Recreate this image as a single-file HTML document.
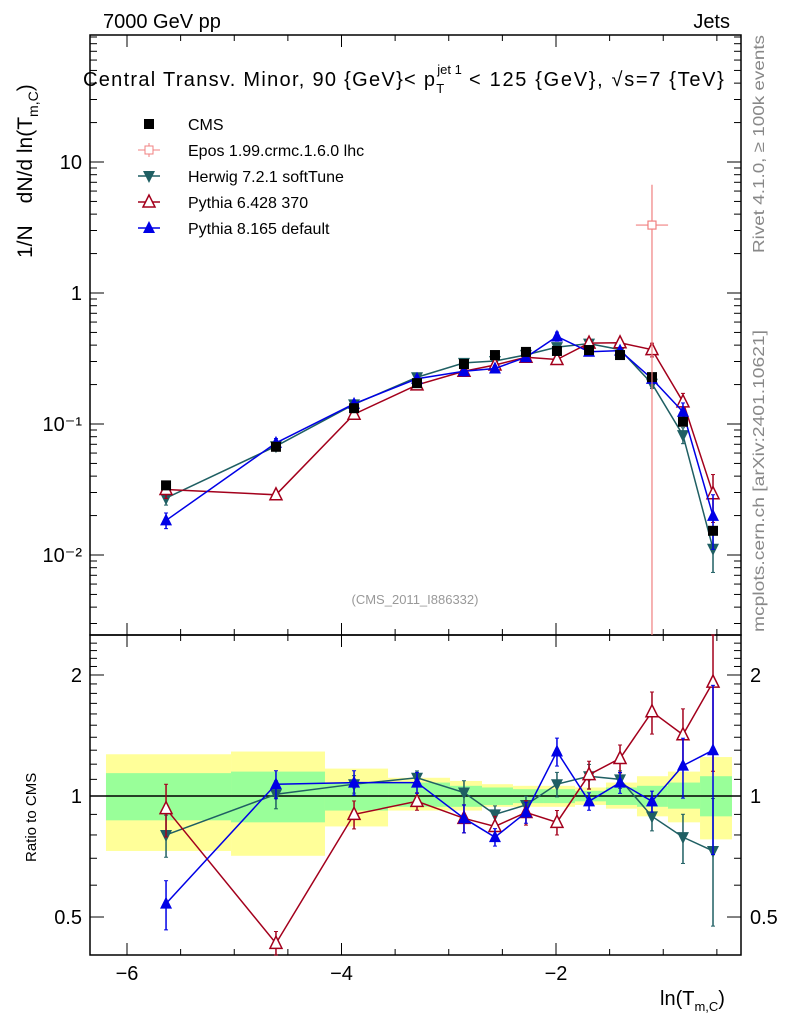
<!DOCTYPE html>
<html><head><meta charset="utf-8"><style>
body{margin:0;background:#fff;}
svg{display:block;font-family:"Liberation Sans",sans-serif;}
</style></head><body>
<svg id="c" width="786" height="1024"></svg>
<script>
const xVals=[-5.636,-4.611,-3.883,-3.296,-2.858,-2.569,-2.280,-1.991,-1.692,-1.403,-1.105,-0.816,-0.536];
const binEdges=[-6.196,-5.030,-4.154,-3.566,-2.988,-2.690,-2.401,-2.112,-1.823,-1.534,-1.245,-0.956,-0.657,-0.359];
const cmsVals=[0.034,0.067,0.132,0.205,0.287,0.336,0.355,0.361,0.367,0.336,0.228,0.104,0.0153];
const herwigRatio=[0.80,1.01,1.07,1.11,1.02,0.90,0.95,1.07,1.12,1.10,0.89,0.79,0.73];
const herwigErr=[0.12,0.08,0.05,0.04,0.07,0.05,0.05,0.07,0.07,0.05,0.08,0.14,0.35];
const py6Ratio=[0.93,0.43,0.90,0.97,0.88,0.84,0.91,0.86,1.13,1.24,1.62,1.42,1.92];
const py6Err=[0.15,0.07,0.08,0.05,0.08,0.06,0.07,0.07,0.08,0.08,0.12,0.16,0.40];
const py8Ratio=[0.54,1.07,1.08,1.08,0.88,0.79,0.91,1.29,0.97,1.08,0.97,1.19,1.30];
const py8Err=[0.14,0.08,0.07,0.06,0.08,0.05,0.06,0.08,0.05,0.06,0.06,0.17,0.45];
const yellowUp=[1.27,1.29,1.17,1.11,1.09,1.07,1.06,1.06,1.05,1.08,1.12,1.15,1.25];
const yellowDn=[0.73,0.71,0.84,0.92,0.92,0.94,0.94,0.94,0.95,0.93,0.89,0.86,0.78];
const greenUp=[1.14,1.15,1.08,1.08,1.06,1.05,1.04,1.04,1.03,1.05,1.06,1.08,1.12];
const greenDn=[0.87,0.86,0.92,0.94,0.94,0.95,0.96,0.96,0.97,0.95,0.94,0.93,0.89];
const eposX=[-1.105], eposVal=[3.3], eposErrUp=[3.4], eposXErr=[0.15];
const xTicks=[-6,-4,-2];
const mainTicks=[0.01,0.1,1,10];
const mainTickLabels=["10\u207B\u00B2","10\u207B\u00B9","1","10"];
const ratioTicks=[0.5,1,2];
const ratioTickLabels=["0.5","1","2"];

const NS="http://www.w3.org/2000/svg";
const svg=document.getElementById('c');
const L=90,R=741,MT=35,MB=635,RT=635,RB=955;
const X0=-6.345,X1=-0.275;
const sx=v=>L+(v-X0)/(X1-X0)*(R-L);
const sy=v=>293-131*Math.log10(v);
const sr=v=>796-402*Math.log10(v);
function el(tag,attrs,parent){const e=document.createElementNS(NS,tag);for(const k in attrs)e.setAttribute(k,attrs[k]);(parent||svg).appendChild(e);return e;}
function txt(s,attrs,parent){const t=el('text',attrs,parent);t.textContent=s;return t;}

const bands=el('g',{});


for(let i=0;i<xVals.length;i++){
  const a=sx(binEdges[i]),b=sx(binEdges[i+1]);
  const y=el('rect',{x:a,y:sr(yellowUp[i]),width:b-a,height:sr(yellowDn[i])-sr(yellowUp[i]),fill:'#ffff99'},bands);
  
  
  const g=el('rect',{x:a,y:sr(greenUp[i]),width:b-a,height:sr(greenDn[i])-sr(greenUp[i]),fill:'#99ff99'},bands);
  
  
}
el('line',{x1:L,x2:R,y1:sr(1),y2:sr(1),stroke:'#000','stroke-width':1.5});

const f1=el('rect',{x:L,y:MT,width:R-L,height:MB-MT,fill:'none',stroke:'#000','stroke-width':1.5});

const f2=el('rect',{x:L,y:RT,width:R-L,height:RB-RT,fill:'none',stroke:'#000','stroke-width':1.5});


for(let v=-6;v<=-0.5;v+=0.5){
  const major=xTicks.includes(v);const len=major?12:6;const x=sx(v);
  for(const [top,bot] of [[MT,MB],[RT,RB]]){
    el('line',{x1:x,x2:x,y1:bot,y2:bot-len,stroke:'#000'});
    el('line',{x1:x,x2:x,y1:top,y2:top+len,stroke:'#000'});
  }
}
xTicks.forEach(v=>{const t=txt('\u2212'+Math.abs(v),{x:sx(v),y:980,'font-size':20,'text-anchor':'middle'});});
for(let e=-3;e<=1;e++)for(let m=1;m<10;m++){const v=m*Math.pow(10,e);const y=sy(v);if(y<MT||y>MB)continue;const len=m==1?14:7;
  el('line',{x1:L,x2:L+len,y1:y,y2:y,stroke:'#000'});el('line',{x1:R,x2:R-len,y1:y,y2:y,stroke:'#000'});}
mainTicks.forEach((v,i)=>{const t=txt(mainTickLabels[i],{x:82,y:sy(v)+7,'font-size':20,'text-anchor':'end'});});
[0.4,0.5,0.6,0.7,0.8,0.9,1,2].forEach(v=>{const y=sr(v);if(y<RT||y>RB)return;const len=(v==0.5||v==1||v==2)?14:7;
  el('line',{x1:L,x2:L+len,y1:y,y2:y,stroke:'#000'});el('line',{x1:R,x2:R-len,y1:y,y2:y,stroke:'#000'});});
for(let k=1.1;k<2.5;k+=0.1){const y=sr(k);if(Math.abs(k-2)<0.01)continue;el('line',{x1:L,x2:L+7,y1:y,y2:y,stroke:'#000'});el('line',{x1:R,x2:R-7,y1:y,y2:y,stroke:'#000'});}
ratioTicks.forEach((v,i)=>{
  const a=txt(ratioTickLabels[i],{x:82,y:sr(v)+7,'font-size':20,'text-anchor':'end'});
  const b=txt(ratioTickLabels[i],{x:750,y:sr(v)+7,'font-size':20});
});

function marker(type,x,y,col,g){
  if(type=='sq')el('rect',{x:x-5,y:y-5,width:10,height:10,fill:col},g);
  else if(type=='up')el('polygon',{points:`${x},${y-7} ${x-6},${y+5} ${x+6},${y+5}`,fill:col},g);
  else if(type=='upo')el('polygon',{points:`${x},${y-7} ${x-6},${y+5} ${x+6},${y+5}`,fill:'#fff',stroke:col,'stroke-width':1.5},g);
  else if(type=='dn')el('polygon',{points:`${x},${y+7} ${x-6},${y-5} ${x+6},${y-5}`,fill:col},g);
}
function series(name,ratio,err,col,type,isMain){
  const g=el('g',{});
  
  
  const Y=isMain?(i=>sy(cmsVals[i]*ratio[i])):(i=>sr(ratio[i]));
  const Yv=isMain?(v=>sy(v)):(v=>sr(v));
  const pts=xVals.map((x,i)=>sx(x)+','+Y(i)).join(' ');
  el('polyline',{points:pts,fill:'none',stroke:col,'stroke-width':1.5},g);
  xVals.forEach((x,i)=>{
    const base=isMain?cmsVals[i]*ratio[i]:ratio[i];
    const up=Math.min(RB,Yv(base*(1-err[i])+0.0001)),lo=Yv(base*(1+err[i]));
    const cx=sx(x);
    const top=Math.max(isMain?MT:RT,lo),bot=Math.min(isMain?MB:RB,up);
    el('line',{x1:cx,x2:cx,y1:top,y2:bot,stroke:col,'stroke-width':1.5},g);
    el('line',{x1:cx-2,x2:cx+2,y1:top,y2:top,stroke:col},g);
    el('line',{x1:cx-2,x2:cx+2,y1:bot,y2:bot,stroke:col},g);
    marker(type,cx,Y(i),col,g);
  });
}
series('herwig-series',herwigRatio,herwigErr,'#1f5f63','dn',true);
series('pythia6-series',py6Ratio,py6Err,'#a3001c','upo',true);
series('pythia8-series',py8Ratio,py8Err,'#0000e6','up',true);
const cg=el('g',{});
xVals.forEach((x,i)=>marker('sq',sx(x),sy(cmsVals[i]),'#000',cg));
series('herwig-ratio',herwigRatio,herwigErr,'#1f5f63','dn',false);
series('pythia6-ratio',py6Ratio,py6Err,'#a3001c','upo',false);
series('pythia8-ratio',py8Ratio,py8Err,'#0000e6','up',false);
const eg=el('g',{});
eposX.forEach((x,i)=>{const cx=sx(x),cy=sy(eposVal[i]);
  el('line',{x1:cx,x2:cx,y1:sy(eposVal[i]+eposErrUp[i]),y2:MB,stroke:'#f08080','stroke-width':1.2},eg);
  el('line',{x1:sx(x-eposXErr[i]),x2:sx(x+eposXErr[i]),y1:cy,y2:cy,stroke:'#f08080','stroke-width':1.2},eg);
  el('rect',{x:cx-4,y:cy-4,width:8,height:8,fill:'#fff',stroke:'#f08080','stroke-width':1.2},eg);});

const lg=el('g',{});
const leg=[['CMS','#000','sq'],['Epos 1.99.crmc.1.6.0 lhc','#f08080','ep'],['Herwig 7.2.1 softTune','#1f5f63','dn'],['Pythia 6.428 370','#a3001c','upo'],['Pythia 8.165 default','#0000e6','up']];
leg.forEach((d,i)=>{const y=124+i*26;
  const e=el('g',{},lg);
  if(d[2]=='ep'){el('line',{x1:138,x2:160,y1:y,y2:y,stroke:d[1]},e);el('line',{x1:149,x2:149,y1:y-7,y2:y+7,stroke:d[1]},e);el('rect',{x:145,y:y-4,width:8,height:8,fill:'#fff',stroke:d[1]},e);}
  else{if(d[2]!='sq'){el('line',{x1:138,x2:160,y1:y,y2:y,stroke:d[1],'stroke-width':1.5},e);}marker(d[2],149,y,d[1],e);}
  txt(d[0],{x:188,y:y+6,'font-size':16},e);});

let t;
t=txt('7000 GeV pp',{x:103,y:28,'font-size':20});
t=txt('Jets',{x:730,y:28,'font-size':20,'text-anchor':'end'});
t=el('text',{x:83,y:86,'font-size':20});
t.innerHTML='<tspan textLength="352" lengthAdjust="spacing">Central Transv. Minor, 90 {GeV}&lt; p</tspan><tspan font-size="13" dy="7">T</tspan><tspan font-size="13" dy="-19" dx="-7">jet 1</tspan><tspan dy="12" textLength="262" lengthAdjust="spacing"> &lt; 125 {GeV}, √s=7 {TeV}</tspan>';
t=el('text',{transform:'translate(32,258) rotate(-90)','font-size':21});
t.innerHTML='1/N<tspan dx="22">dN/d ln(T</tspan><tspan font-size="14" dy="6">m,C</tspan><tspan dy="-6">)</tspan>';
t=txt('Ratio to CMS',{transform:'translate(36,862) rotate(-90)','font-size':15});
t=el('text',{x:660,y:1005,'font-size':20});
t.innerHTML='ln(T<tspan font-size="13" dy="6">m,C</tspan><tspan dy="-6">)</tspan>';
t=txt('(CMS_2011_I886332)',{x:415,y:604,'font-size':13,fill:'#999','text-anchor':'middle'});
t=txt('Rivet 4.1.0, \u2265 100k events',{transform:'translate(764,253) rotate(-90)','font-size':16,fill:'#888',textLength:218,lengthAdjust:'spacingAndGlyphs'});
t=txt('mcplots.cern.ch [arXiv:2401.10621]',{transform:'translate(764,632) rotate(-90)','font-size':16,fill:'#888',textLength:302,lengthAdjust:'spacingAndGlyphs'});
</script>
</body></html>
